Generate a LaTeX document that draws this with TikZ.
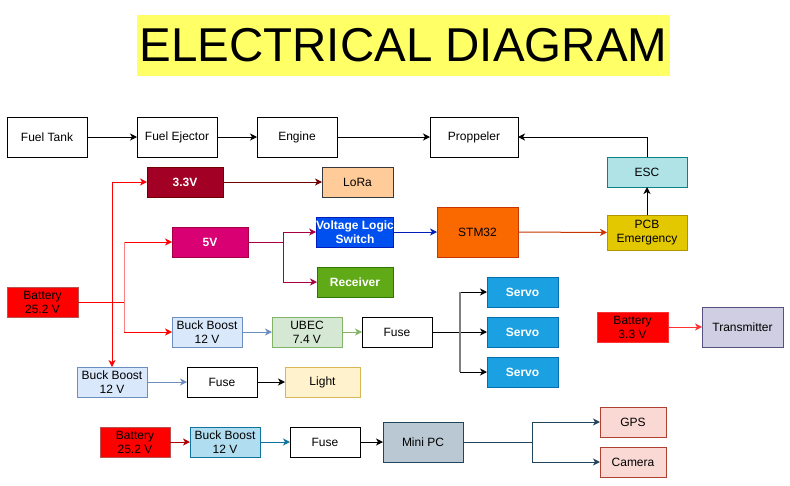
\documentclass[tikz,border=0pt]{standalone}
\usepackage{fontspec}
\setmainfont{Liberation Sans}
\usepackage{xcolor}
\definecolor{cTitle}{HTML}{FFFF66}
\definecolor{cWine}{HTML}{A20025}
\definecolor{cWineLine}{HTML}{6F0000}
\definecolor{cPeach}{HTML}{FFCC99}
\definecolor{cMagenta}{HTML}{D80073}
\definecolor{cMagentaLine}{HTML}{A50040}
\definecolor{cCobalt}{HTML}{0050EF}
\definecolor{cCobaltLine}{HTML}{001DBC}
\definecolor{cGreen}{HTML}{60A917}
\definecolor{cGreenLine}{HTML}{2D7600}
\definecolor{cOrange}{HTML}{FA6800}
\definecolor{cOrangeLine}{HTML}{C73500}
\definecolor{cYellow}{HTML}{E3C800}
\definecolor{cYellowLine}{HTML}{B09500}
\definecolor{cTeal}{HTML}{B0E3E6}
\definecolor{cTealLine}{HTML}{0E8088}
\definecolor{cBatLine}{HTML}{B85450}
\definecolor{cSky}{HTML}{DAE8FC}
\definecolor{cSkyLine}{HTML}{6C8EBF}
\definecolor{cMint}{HTML}{D5E8D4}
\definecolor{cMintLine}{HTML}{82B366}
\definecolor{cCream}{HTML}{FFF2CC}
\definecolor{cCreamLine}{HTML}{D6B656}
\definecolor{cServo}{HTML}{1BA1E2}
\definecolor{cServoLine}{HTML}{006EAF}
\definecolor{cLilac}{HTML}{D0CEE2}
\definecolor{cLilacLine}{HTML}{56517E}
\definecolor{cIce}{HTML}{B1DDF0}
\definecolor{cIceLine}{HTML}{10739E}
\definecolor{cSlate}{HTML}{BAC8D3}
\definecolor{cSlateLine}{HTML}{23445D}
\definecolor{cRose}{HTML}{FAD9D5}
\definecolor{cRoseLine}{HTML}{AE4132}
\definecolor{cGrayDark}{HTML}{36393D}
\usetikzlibrary{positioning,arrows.meta,calc}
\tikzset{
  node-box/.style={draw=black,line width=1pt,minimum height=30pt,
    minimum width=70pt,inner sep=0pt,outer sep=0pt,align=center},
  node-light/.style={text=white,font=\fontsize{12}{14}\selectfont\bfseries},
  node-bat/.style={node-box,fill=red,draw=cBatLine,minimum width=71pt},
  arrow/.style={-{Stealth[length=7pt,width=7pt,inset=2pt]},line width=1pt,draw=black},
  arrow-red/.style={arrow,draw=red},
}

\begin{document}
\begin{tikzpicture}[x=1pt,y=-1pt,font=\fontsize{12}{14}\selectfont]
  \useasboundingbox (0,0) rectangle (790,485);
  \node[fill=cTitle,minimum width=533pt,minimum height=61pt,inner sep=0pt,
    font=\fontsize{47.5}{50}\selectfont] (title) at (403.5,45.5) {ELECTRICAL DIAGRAM};

  % engine line
  \node[node-box,minimum width=80pt,minimum height=40pt] (tank) at (47,137) {Fuel Tank};
  \node[node-box,minimum width=80pt,minimum height=40pt,right=50pt of tank] (ejector) {Fuel Ejector};
  \node[node-box,minimum width=80pt,minimum height=40pt,right=40pt of ejector] (engine) {Engine};
  \node[node-box,minimum width=88pt,minimum height=40pt] (prop) at (474,137) {Proppeler};
  \node[node-box,minimum width=80pt,fill=cTeal,draw=cTealLine] (esc) at (647,172) {ESC};
  \node[node-box,minimum width=80pt,minimum height=35pt,fill=cYellow,draw=cYellowLine,
    below=28pt of esc] (pcb) {PCB\\Emergency};
  \node[node-box,minimum width=81pt,minimum height=50pt,fill=cOrange,draw=cOrangeLine]
    (stm) at (477.5,232) {STM32};

  % main battery
  \node[node-bat] (bat) at (42.5,302) {Battery\\25.2 V};
  \node[node-box,node-light,minimum width=76pt,fill=cWine,draw=cWineLine] (v33) at (185,182) {3.3V};
  \node[node-box,minimum width=71pt,fill=cPeach,draw=cGrayDark] (lora) at (357.5,182) {LoRa};
  \node[node-box,node-light,minimum width=76pt,fill=cMagenta,draw=cMagentaLine] (v5) at (210,242) {5V};
  \node[node-box,node-light,minimum width=76pt,fill=cCobalt,draw=cCobaltLine] (vls) at (355,232) {Voltage Logic\\Switch};
  \node[node-box,node-light,minimum width=76pt,fill=cGreen,draw=cGreenLine,below=20pt of vls] (rcv) {Receiver};

  \node[node-box,fill=cSky,draw=cSkyLine] (bbA) at (207,332) {Buck Boost\\12 V};
  \node[node-box,fill=cMint,draw=cMintLine,right=30pt of bbA] (ubec) {UBEC\\7.4 V};
  \node[node-box,right=20pt of ubec] (fuseA) {Fuse};
  \node[node-box,node-light,minimum width=71pt,fill=cServo,draw=cServoLine] (servo2) at (522.5,332) {Servo};
  \node[node-box,node-light,minimum width=71pt,fill=cServo,draw=cServoLine,above=10pt of servo2] (servo1) {Servo};
  \node[node-box,node-light,minimum width=71pt,fill=cServo,draw=cServoLine,below=10pt of servo2] (servo3) {Servo};

  \node[node-box,fill=cSky,draw=cSkyLine] (bbB) at (112,382) {Buck Boost\\12 V};
  \node[node-box,right=40pt of bbB] (fuseB) {Fuse};
  \node[node-box,minimum width=75pt,fill=cCream,draw=cCreamLine,right=28pt of fuseB] (light) {Light};

  % transmitter
  \node[node-bat,draw=red!80] (bat33) at (632.5,327) {Battery\\3.3 V};
  \node[node-box,minimum width=81pt,minimum height=40pt,fill=cLilac,draw=cLilacLine,
    right=34pt of bat33] (tx) {Transmitter};

  % mini pc line
  \node[node-bat,minimum width=70pt] (batC) at (135,442) {Battery\\25.2 V};
  \node[node-box,fill=cIce,draw=cIceLine,right=20pt of batC] (bbC) {Buck Boost\\12 V};
  \node[node-box,right=30pt of bbC] (fuseC) {Fuse};
  \node[node-box,minimum width=80pt,minimum height=40pt,fill=cSlate,draw=cSlateLine,
    right=23pt of fuseC] (mpc) {Mini PC};
  \node[node-box,minimum width=66pt,fill=cRose,draw=cRoseLine] (gps) at (633,422) {GPS};
  \node[node-box,minimum width=66pt,fill=cRose,draw=cRoseLine,below=10pt of gps] (cam) {Camera};

  \coordinate (jOut) at (112,302);
  \coordinate (jIn) at (124.5,302);
  \coordinate (j5) at (283,242);
  \coordinate (jServo) at (460,332);
  \coordinate (jPc) at (532,442);

  \draw[arrow] (tank) -- (ejector);
  \draw[arrow] (ejector) -- (engine);
  \draw[arrow] (engine) -- (prop);
  \draw[arrow] (esc.north) |- (prop.east);
  \draw[arrow] (pcb) -- (esc);
  \draw[arrow,draw=cOrangeLine] (stm) -- (pcb);
  \draw[arrow,draw=cCobaltLine] (vls) -- (vls -| stm.west);

  \draw[arrow-red] (bat.east) -- (jOut) |- (v33.west);
  \draw[arrow-red] (bat.east) -- (jOut) -- (bbB.north);
  \draw[arrow-red] (bat.east) -- (jIn) |- (v5.west);
  \draw[arrow-red] (bat.east) -- (jIn) |- (bbA.west);
  \draw[red!50,line width=1.5pt] (jIn |- v5) -- (jIn |- bbA);
  \draw[arrow,draw=cWineLine] (v33) -- (lora);
  \draw[arrow,draw=cMagentaLine] (v5.east) -- (j5) |- (vls.west);
  \draw[arrow,draw=cMagentaLine] (v5.east) -- (j5) |- (rcv.west);

  \draw[arrow,draw=cSkyLine] (bbA) -- (ubec);
  \draw[arrow,draw=cMintLine] (ubec) -- (fuseA);
  \draw[arrow] (fuseA.east) -- (jServo) |- (servo1.west);
  \draw[arrow] (fuseA.east) -- (servo2.west);
  \draw[arrow] (fuseA.east) -- (jServo) |- (servo3.west);
  \draw[gray,line width=1.5pt] (jServo |- servo1) -- (jServo |- servo3);

  \draw[arrow,draw=cSkyLine] (bbB) -- (fuseB);
  \draw[arrow] (fuseB) -- (light);
  \draw[arrow,draw=red!80] (bat33) -- (tx);

  \draw[arrow,draw=red!70!black] (batC) -- (bbC);
  \draw[arrow,draw=cIceLine] (bbC) -- (fuseC);
  \draw[arrow] (fuseC) -- (mpc);
  \draw[arrow,draw=cSlateLine] (mpc.east) -- (jPc) |- (gps.west);
  \draw[arrow,draw=cSlateLine] (mpc.east) -- (jPc) |- (cam.west);
\end{tikzpicture}
\end{document}
